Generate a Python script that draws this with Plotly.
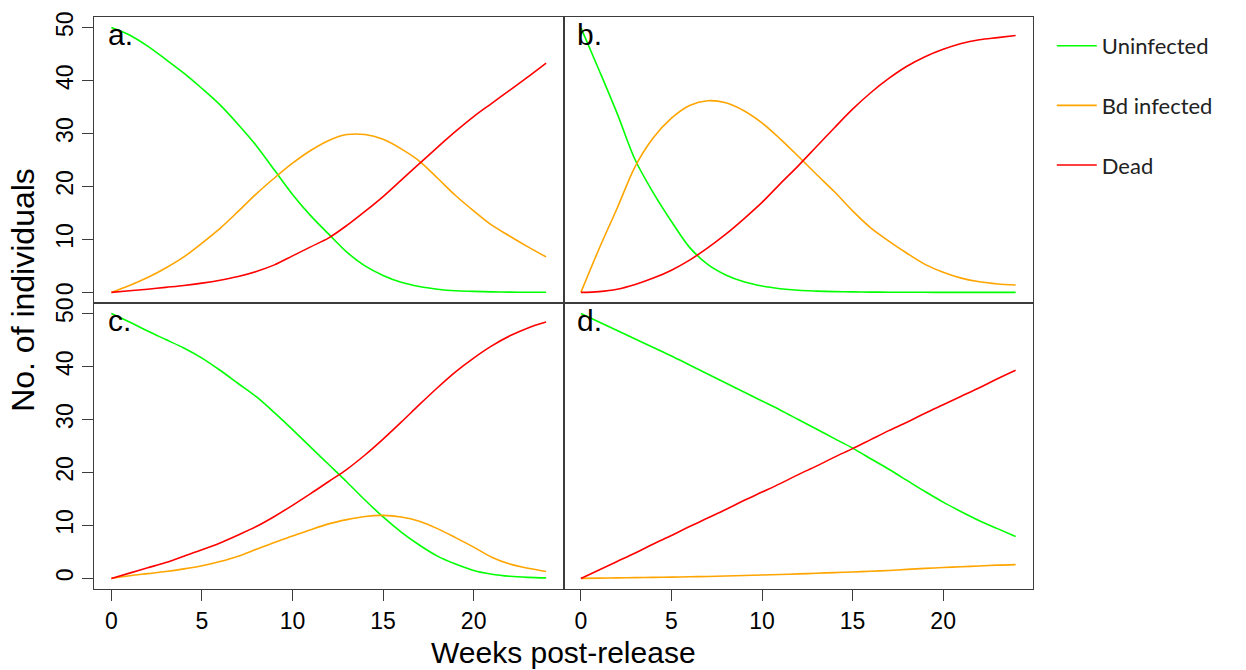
import plotly.graph_objects as go
from plotly.subplots import make_subplots

weeks = list(range(25))

# a. 
a_uninfected = [50, 48.6, 46.5, 44.0, 41.4, 38.5, 35.4, 31.7, 27.7, 23.1, 18.5, 14.5, 11.0,
                7.6, 5.0, 3.2, 1.9, 1.1, 0.6, 0.3, 0.2, 0.1, 0.05, 0.03, 0.02]
a_infected = [0, 1.3, 2.8, 4.6, 6.7, 9.3, 12.1, 15.3, 18.6, 21.6, 24.4, 26.8, 28.7,
              29.8, 29.8, 28.9, 27.1, 24.8, 21.6, 18.3, 15.4, 12.7, 10.6, 8.6, 6.7]
a_dead = [0, 0.3, 0.6, 0.95, 1.3, 1.75, 2.3, 3.0, 3.95, 5.2, 6.9, 8.6, 10.3,
          12.65, 15.3, 18.1, 21.2, 24.3, 27.4, 30.4, 33.2, 35.7, 38.2, 40.7, 43.3]

# b.
b_uninfected = [50, 42.0, 33.8, 25.0, 18.8, 13.4, 8.5, 5.3, 3.3, 2.0, 1.2, 0.7, 0.4,
                0.25, 0.15, 0.1, 0.06, 0.04, 0.03, 0.02, 0.01, 0.01, 0.0, 0.0, 0.0]
b_infected = [0, 8.2, 15.9, 23.8, 29.2, 32.9, 35.3, 36.2, 35.8, 34.3, 32.0, 29.0, 25.7,
              22.3, 19.0, 15.4, 12.2, 9.7, 7.4, 5.3, 3.8, 2.7, 2.0, 1.6, 1.4]
b_dead = [0, 0.15, 0.6, 1.5, 2.7, 4.2, 6.1, 8.4, 11.0, 13.9, 17.0, 20.5, 23.9,
          27.5, 31.1, 34.6, 37.7, 40.4, 42.7, 44.5, 45.9, 47.0, 47.7, 48.1, 48.5]

# c.
c_uninfected = [50, 48.4, 46.7, 45.1, 43.5, 41.6, 39.3, 36.8, 34.3, 31.3, 28.1, 24.8, 21.5,
                18.2, 14.8, 11.6, 8.75, 6.3, 4.2, 2.7, 1.5, 0.8, 0.4, 0.2, 0.1]
c_infected = [0, 0.5, 0.9, 1.3, 1.8, 2.4, 3.2, 4.2, 5.5, 6.8, 8.0, 9.2, 10.3,
              11.1, 11.7, 11.9, 11.6, 10.8, 9.4, 7.7, 5.9, 4.0, 2.7, 1.9, 1.3]
c_dead = [0, 1.0, 2.0, 3.0, 4.2, 5.4, 6.7, 8.2, 9.8, 11.7, 13.8, 16.0, 18.3,
          20.6, 23.3, 26.3, 29.5, 32.8, 36.0, 39.0, 41.6, 43.9, 45.8, 47.3, 48.4]

# d.
d_uninfected = [50, 48.4, 46.8, 45.2, 43.6, 42.0, 40.3, 38.6, 36.9, 35.2, 33.5, 31.8, 30.0,
                28.2, 26.4, 24.6, 22.6, 20.6, 18.5, 16.4, 14.4, 12.6, 10.9, 9.4, 7.9]
d_infected = [0, 0.05, 0.1, 0.15, 0.2, 0.25, 0.3, 0.37, 0.45, 0.55, 0.65, 0.75, 0.85,
              0.97, 1.1, 1.2, 1.35, 1.5, 1.7, 1.9, 2.05, 2.2, 2.35, 2.5, 2.6]
d_dead = [0, 1.6, 3.2, 4.8, 6.5, 8.1, 9.8, 11.4, 13.0, 14.7, 16.3, 17.9, 19.6,
          21.2, 22.9, 24.5, 26.2, 27.9, 29.5, 31.2, 32.8, 34.4, 36.0, 37.7, 39.3]

panel_labels = ["a.", "b.", "c.", "d."]
series_names = ["Uninfected", "Bd infected", "Dead"]
series_colors = ["#00ff00", "#ffa500", "#ff0000"]
x_ticks = [0, 5, 10, 15, 20]
y_ticks = [0, 10, 20, 30, 40, 50]

panels = [
    (1, 1, [a_uninfected, a_infected, a_dead]),
    (1, 2, [b_uninfected, b_infected, b_dead]),
    (2, 1, [c_uninfected, c_infected, c_dead]),
    (2, 2, [d_uninfected, d_infected, d_dead]),
]

ARIAL = "Liberation Sans, Arial, sans-serif"
AXIS_COL = "#3c3c3c"

fig = make_subplots(rows=2, cols=2, horizontal_spacing=0, vertical_spacing=0)

for idx, (r, c, series) in enumerate(panels):
    for name, col, vals in zip(series_names, series_colors, series):
        fig.add_trace(
            go.Scatter(
                x=weeks, y=vals, mode="lines", name=name,
                line=dict(color=col, width=1.6, shape="spline", smoothing=0.9),
                legendgroup=name, showlegend=(idx == 0),
                hoverinfo="skip",
            ),
            row=r, col=c,
        )

for idx, (r, c, _) in enumerate(panels):
    bottom = r == 2
    left = c == 1
    fig.update_xaxes(
        range=[-0.96, 24.96], tickvals=x_ticks,
        showticklabels=bottom, ticks="outside" if bottom else "",
        ticklen=11, tickwidth=1.3, tickcolor=AXIS_COL,
        tickfont=dict(family=ARIAL, size=23, color="#000"),
        showline=True, mirror=True, linecolor=AXIS_COL, linewidth=1.2,
        showgrid=False, zeroline=False, fixedrange=True,
        row=r, col=c,
    )
    fig.update_yaxes(
        range=[-2, 52], tickvals=y_ticks,
        showticklabels=left, ticks="outside" if left else "",
        ticklen=11, tickwidth=1.3, tickcolor=AXIS_COL, tickangle=-90,
        tickfont=dict(family=ARIAL, size=23, color="#000"),
        showline=True, mirror=True, linecolor=AXIS_COL, linewidth=1.2,
        showgrid=False, zeroline=False, fixedrange=True,
        row=r, col=c,
    )
    ax_suffix = "" if idx == 0 else str(idx + 1)
    fig.add_annotation(
        text=panel_labels[idx], x=-0.3, y=48.7,
        xref="x" + ax_suffix, yref="y" + ax_suffix,
        xanchor="left", yanchor="middle", showarrow=False,
        font=dict(family=ARIAL, size=30, color="#000"),
    )

# shared axis titles
fig.add_annotation(
    text="Weeks post-release", xref="paper", yref="paper",
    x=0.5, y=-0.1114, xanchor="center", yanchor="middle", showarrow=False,
    font=dict(family=ARIAL, size=30, color="#000"),
)
fig.add_annotation(
    text="No. of individuals", xref="paper", yref="paper",
    x=-0.0756, y=0.523, xanchor="center", yanchor="middle", showarrow=False,
    textangle=-90, font=dict(family=ARIAL, size=32, color="#000"),
)

fig.update_layout(
    width=1246, height=670,
    margin=dict(l=94, r=213, t=11, b=81),
    paper_bgcolor="white", plot_bgcolor="white",
    legend=dict(
        x=1.02, y=0.986, xanchor="left", yanchor="top",
        font=dict(family="Lato, Open Sans, sans-serif", size=22, color="#222"),
        tracegroupgap=28, itemwidth=40, bgcolor="rgba(0,0,0,0)",
    ),
)

fig.write_html("out.html")
